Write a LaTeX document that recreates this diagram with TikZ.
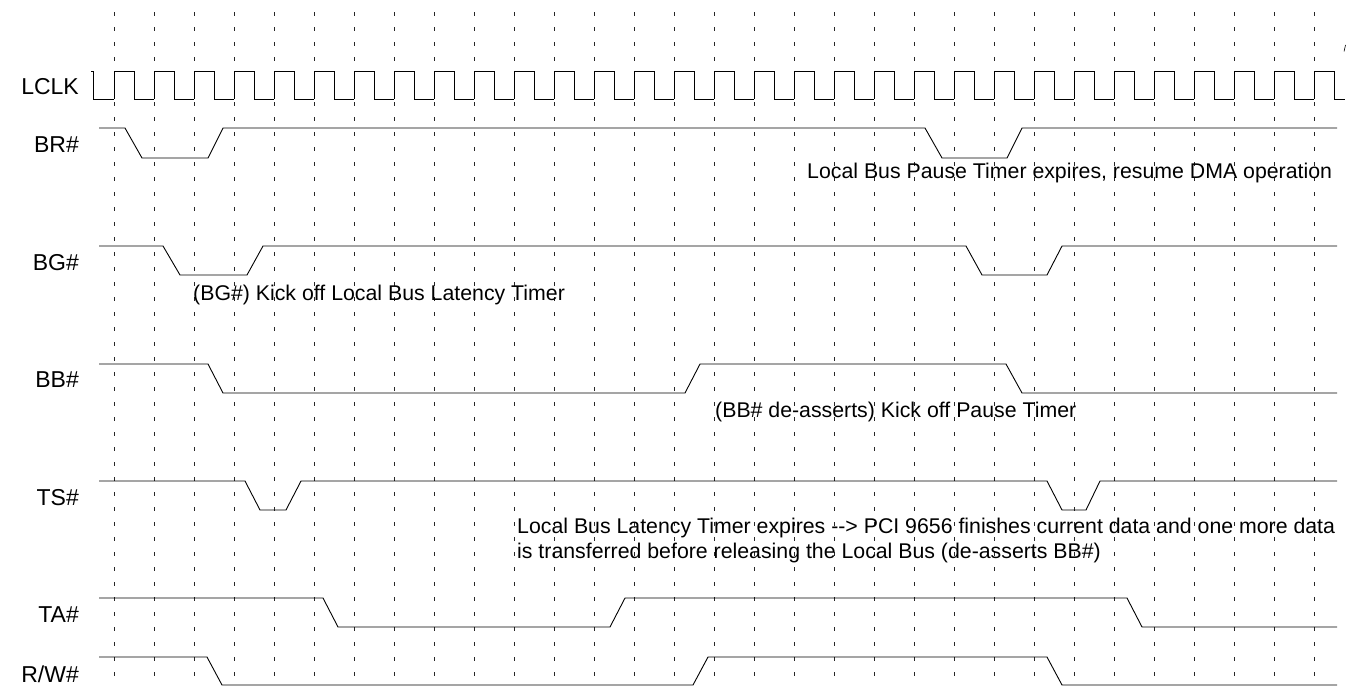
\documentclass[tikz,border=0pt]{standalone}
\usepackage{fontspec}
\setmainfont{Liberation Sans}
\begin{document}
\begin{tikzpicture}[x=1pt, y=-1pt,
    wave/.style={line width=0.9pt},
    clkgrid/.style={black!85, line width=1pt, dash pattern=on 4pt off 11pt},
    signame/.style={inner sep=0pt, anchor=base east, font=\fontsize{23}{27}\selectfont},
    note/.style={inner sep=0pt, anchor=base west, font=\fontsize{21.3}{25}\selectfont}]
  \useasboundingbox (0,0) rectangle (1356,686);

  % Grid: one dashed line per rising clock edge
  \foreach \k in {0,...,30}
    \draw[clkgrid] ({114+40*\k},12) -- ({114+40*\k},686);

  % Signal names
  \node[signame] (lclk) at (79,94) {LCLK};
  \node[signame] (br) at (79,152) {BR\#};
  \node[signame] (bg) at (79,270) {BG\#};
  \node[signame] (bb) at (79,387) {BB\#};
  \node[signame] (ts) at (79,505) {TS\#};
  \node[signame] (ta) at (79,622) {TA\#};
  \node[signame] (rw) at (79,682) {R/W\#};

  % LCLK
  \draw[wave] (91,71) -- (93,71) -- (93,99) -- (114,99);
  \foreach \k in {0,...,29}
    \draw[wave] ({114+40*\k},99) -- ({114+40*\k},71) -- ({134+40*\k},71) -- ({134+40*\k},99) -- ({154+40*\k},99);
  \draw[wave] (1314,99) -- (1314,71) -- (1334,71) -- (1334,99) -- (1345,99);
  \draw[line width=0.6pt] (1345.5,45) -- (1344,51.5);

  % BR#
  \draw[wave] (99,128) -- (125,128) -- (142,158) -- (208,158) -- (223,128) -- (925,128)
    -- (942,158) -- (1007,158) -- (1022,128) -- (1337,128);
  \node[note] (pausenote) at (807,178) {Local Bus Pause Timer expires, resume DMA operation};

  % BG#
  \draw[wave] (99,246) -- (163,246) -- (180,275) -- (247,275) -- (263,246) -- (966,246)
    -- (982,275) -- (1047,275) -- (1062,246) -- (1337,246);
  \node[note] (bgnote) at (193,300) {(BG\#) Kick off Local Bus Latency Timer};

  % BB#
  \draw[wave] (99,364) -- (208,364) -- (223,393) -- (685,393) -- (700,364) -- (1006,364)
    -- (1022,393) -- (1337,393);
  \node[note] (bbnote) at (715,417) {(BB\# de-asserts) Kick off Pause Timer};

  % TS#
  \draw[wave] (99,481) -- (245,481) -- (260,510) -- (286,510) -- (301,481) -- (1047,481)
    -- (1062,510) -- (1086,510) -- (1100,481) -- (1337,481);
  \node[note] (latnote) at (517,533) {Local Bus Latency Timer expires -{}-> PCI 9656 finishes current data and one more data};
  \node[note] (latnotetwo) at (517,558) {is transferred before releasing the Local Bus (de-asserts BB\#)};

  % TA#
  \draw[wave] (99,598) -- (323,598) -- (338,627) -- (610,627) -- (625,598) -- (1127,598)
    -- (1142,627) -- (1337,627);

  % R/W#
  \draw[wave] (99,657) -- (207,657) -- (222,685) -- (693,685) -- (708,657) -- (1047,657)
    -- (1062,685) -- (1337,685);
\end{tikzpicture}
\end{document}
